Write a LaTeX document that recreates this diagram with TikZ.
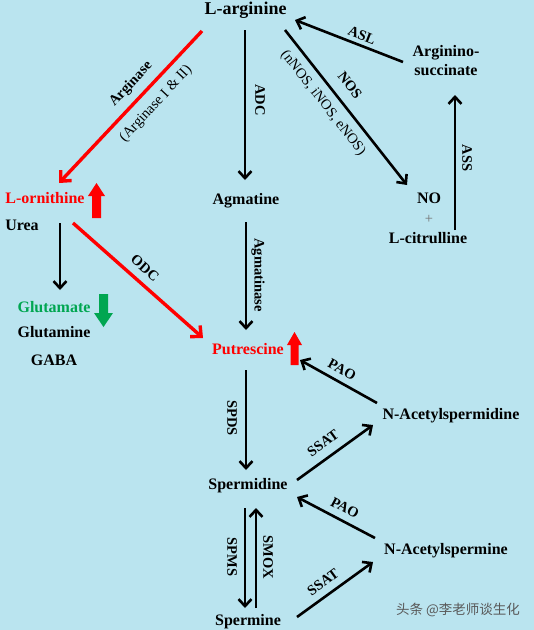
\documentclass[tikz,border=0pt]{standalone}
\usepackage{fontspec}
\setmainfont{Liberation Serif}
\newfontfamily\cjkfont{Noto Sans CJK SC}
\usetikzlibrary{arrows.meta,calc}
\definecolor{bgblue}{RGB}{186,228,239}
\definecolor{glugreen}{RGB}{0,166,81}
\tikzset{
  nd/.style={font=\bfseries\fontsize{16}{19}\selectfont, inner sep=0pt, text height=11pt, text depth=3.5pt},
  lbl/.style={font=\bfseries\fontsize{14.5}{16}\selectfont, inner sep=0pt},
  lblr/.style={font=\fontsize{14.5}{16}\selectfont, inner sep=0pt},
  arr/.style={draw=black, line width=2.6pt, -{Straight Barb[length=7pt,width=13pt,line width=2.6pt]}},
  rarr/.style={draw=red, line width=3.4pt, -{Straight Barb[length=8pt,width=15pt,line width=3.4pt]}}
}
\begin{document}
\begin{tikzpicture}[x=1pt,y=-1pt]
\fill[bgblue] (0,0) rectangle (534,630);
\useasboundingbox (0,0) rectangle (534,630);

% metabolite nodes
\node[nd, font=\bfseries\fontsize{18}{20}\selectfont, text height=12pt, text depth=4pt] (arg) at (245.5,10) {L-arginine};
\node[nd, align=center] (asuc) at (446,72) {Arginino-\\succinate};
\node[nd] (no) at (429,200) {NO};
\node[lblr, text=black!55] (plus) at (429,219) {+};
\node[nd] (cit) at (428,240) {L-citrulline};
\node[nd] (agm) at (246,201) {Agmatine};
\node[nd, text=red] (orn) at (45,200) {L-ornithine};
\node[nd] (urea) at (22,227) {Urea};
\node[nd, text=glugreen] (glu) at (54,309) {Glutamate};
\node[nd] (gln) at (54,334) {Glutamine};
\node[nd] (gaba) at (54,362) {GABA};
\node[nd, text=red] (put) at (248,351) {Putrescine};
\node[nd] (spd) at (248,486) {Spermidine};
\node[nd] (spm) at (248,622) {Spermine};
\node[nd] (acspd) at (451,416) {N-Acetylspermidine};
\node[nd] (acspm) at (446,551) {N-Acetylspermine};
\node[inner sep=0pt, text=black!65, font=\cjkfont\fontsize{13.5}{15}\selectfont] (wm) at (458,610) {头条 @李老师谈生化};

% connectors
\draw[rarr] ($(arg)+(-43.5,21)$) -- ($(orn)+(14,-17)$);
\draw[arr] ($(arg)+(-0.5,20)$) -- ($(agm)+(-1,-21)$);
\draw[arr] ($(arg)+(39.5,20)$) -- ($(no)+(-22,-15)$);
\draw[arr] ($(asuc)+(-43,-10)$) -- ($(arg)+(49.5,10)$);
\draw[arr] ($(cit)+(27,-10)$) -- ($(asuc)+(9,23)$);
\draw[arr] ($(agm)+(0,21)$) -- ($(put)+(-2,-21)$);
\draw[arr] ($(orn)+(15,23)$) -- ($(glu)+(6,-19)$);
\draw[rarr] ($(orn)+(28,23)$) -- ($(put)+(-45,-13)$);
\draw[arr] ($(put)+(-2,19)$) -- ($(spd)+(-2,-16)$);
\draw[arr] ($(acspd)+(-74,-13)$) -- ($(put)+(52,9)$);
\draw[arr] ($(spd)+(49,-6)$) -- ($(acspd)+(-78,9)$);
\draw[arr] ($(acspm)+(-71,-13)$) -- ($(spd)+(49,11)$);
\draw[arr] ($(spd)+(-3,22)$) -- ($(spm)+(-3,-14)$);
\draw[arr] ($(spm)+(8,-14)$) -- ($(spd)+(8,22)$);
\draw[arr] ($(spm)+(49,-5)$) -- ($(acspm)+(-73,11)$);

% enzyme labels
\node[lbl, rotate=47] (lArg) at (131,84) {Arginase};
\node[lblr, rotate=47] (lArg2) at (156,104) {(Arginase I \& II)};
\node[lbl, rotate=-90] (lADC) at (260,100) {ADC};
\node[lbl, rotate=-52] (lNOS) at (350,85) {NOS};
\node[lblr, rotate=-52] (lNOS2) at (323,103) {(nNOS, iNOS, eNOS)};
\node[lbl, rotate=-21] (lASL) at (362,35) {ASL};
\node[lbl, rotate=-90] (lASS) at (467,158) {ASS};
\node[lbl, rotate=-90] (lAgm) at (258,275) {Agmatinase};
\node[lbl, rotate=-41.5] (lODC) at (145,268) {ODC};
\node[lbl, rotate=-90] (lSPDS) at (232,418) {SPDS};
\node[lbl, rotate=-29] (lPAO1) at (342,370) {PAO};
\node[lbl, rotate=36] (lSSAT1) at (323,443) {SSAT};
\node[lbl, rotate=-28] (lPAO2) at (345,508) {PAO};
\node[lbl, rotate=-90] (lSPMS) at (232,557) {SPMS};
\node[lbl, rotate=-90] (lSMOX) at (268,557) {SMOX};
\node[lbl, rotate=36] (lSSAT2) at (323,582) {SSAT};

% block arrows
\fill[red] (96.5,183) -- (105,196) -- (101,196) -- (101,218) -- (92,218) -- (92,196) -- (88,196) -- cycle;
\fill[red] (294.5,332) -- (302,345) -- (298.5,345) -- (298.5,365) -- (290.5,365) -- (290.5,345) -- (287,345) -- cycle;
\fill[glugreen] (103.5,327) -- (113,313) -- (108,313) -- (108,294) -- (99,294) -- (99,313) -- (94,313) -- cycle;
\end{tikzpicture}
\end{document}
